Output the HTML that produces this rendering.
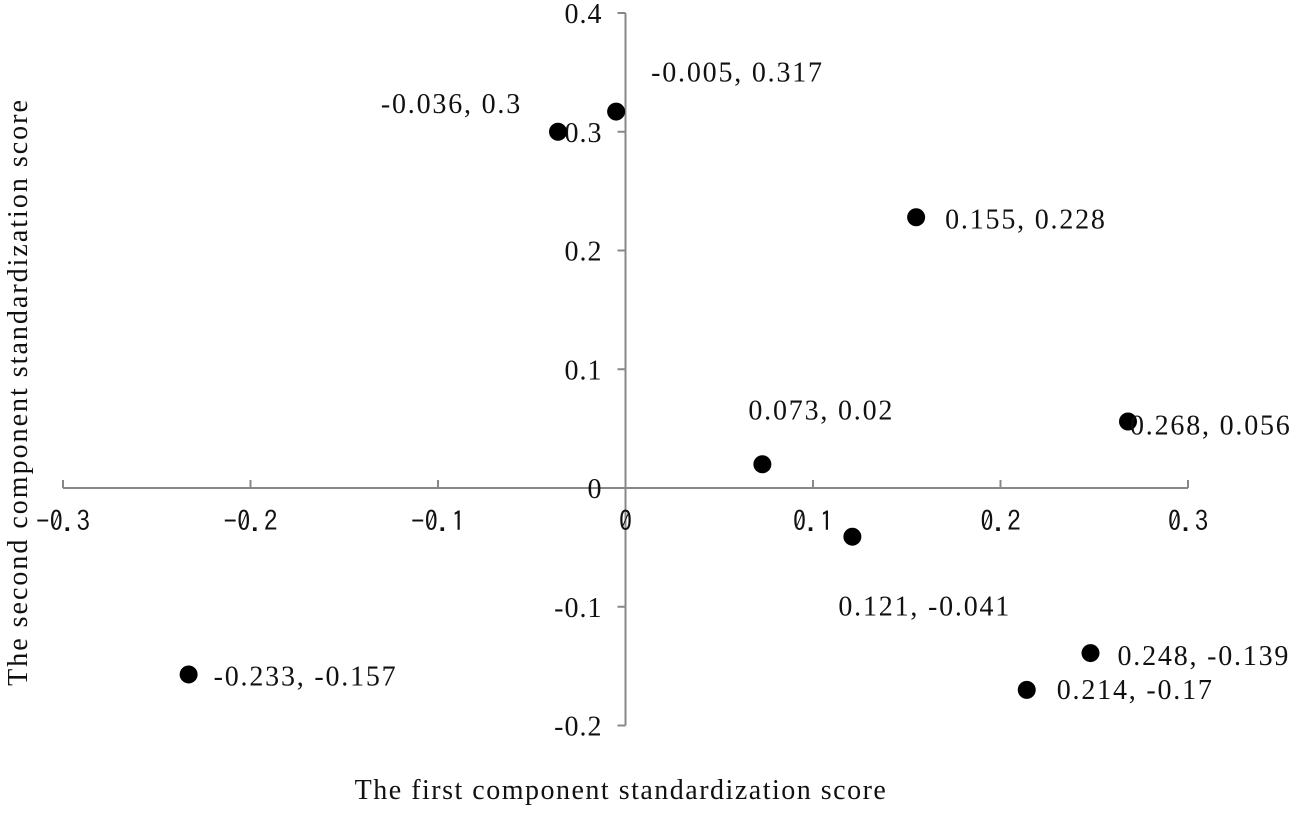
<!DOCTYPE html>
<html><head><meta charset="utf-8"><style>
html,body{margin:0;padding:0;background:#fff}
svg text{font-family:"Liberation Serif",serif;fill:#111}
.xt{font-family:"IPAGothic","Liberation Mono",monospace;font-size:27px}
.lb{font-size:28px;letter-spacing:1.8px}
</style></head><body>
<svg id="chart" width="1299" height="810" xmlns="http://www.w3.org/2000/svg">
<g id="axes"></g><g id="pts"></g>
<text x="621" y="799" text-anchor="middle" font-size="28" letter-spacing="1.5">The first component standardization score</text>
<text transform="translate(27,392) rotate(-90)" text-anchor="middle" font-size="28" letter-spacing="2">The second component standardization score</text>
</svg>
<script>
const xVals=[-0.036,-0.005,0.155,0.073,0.268,0.121,0.248,0.214,-0.233];
const yVals=[0.3,0.317,0.228,0.02,0.056,-0.041,-0.139,-0.17,-0.157];
const xTicks=[-0.3,-0.2,-0.1,0,0.1,0.2,0.3];
const yTicks=[0.4,0.3,0.2,0.1,0,-0.1,-0.2];
const xTickLabels=["-0.3","-0.2","-0.1","0","0.1","0.2","0.3"];
const yTickLabels=["0.4","0.3","0.2","0.1","0","-0.1","-0.2"];
// label offsets [dx, dy, anchor] relative to point
const offs=[[-36,-29,"end"],[35,-40,"start"],[29,1,"start"],[-14,-55,"start"],[2,3,"start"],[-14,69,"start"],[27,2,"start"],[30,-1,"start"],[25,1,"start"]];
const X=v=>625.5+v*1875, Y=v=>488-v*1187.5;
const NS="http://www.w3.org/2000/svg";
const ax=document.getElementById('axes'), pg=document.getElementById('pts');
function mk(t,a,p){const e=document.createElementNS(NS,t);for(const k in a)e.setAttribute(k,a[k]);p.appendChild(e);return e;}
let l=mk('line',{x1:X(-0.3),x2:X(0.3),y1:Y(0),y2:Y(0),stroke:'#888','stroke-width':2},ax);


l=mk('line',{x1:X(0),x2:X(0),y1:Y(0.4),y2:Y(-0.2),stroke:'#888','stroke-width':2},ax);


xTicks.forEach((v,i)=>{
 const t=mk('line',{x1:X(v),x2:X(v),y1:Y(0),y2:Y(0)-8,stroke:'#888','stroke-width':2},ax);
 
 
 const tx=mk('text',{x:X(v),y:Y(0)+43,'text-anchor':'middle',class:'xt'},ax);
 tx.textContent=xTickLabels[i];
 
 
});
yTicks.forEach((v,i)=>{
 const t=mk('line',{x1:X(0)-8,x2:X(0),y1:Y(v),y2:Y(v),stroke:'#888','stroke-width':2},ax);
 
 
 const tx=mk('text',{x:X(0)-23,y:Y(v)+10,'text-anchor':'end','font-size':28,'letter-spacing':1},ax);
 tx.textContent=yTickLabels[i];
 
 
});
xVals.forEach((v,i)=>{
 const cx=X(v),cy=Y(yVals[i]);
 const c=mk('circle',{cx:cx,cy:cy,r:9,fill:'#000'},pg);
 
 
 const o=offs[i];
 const t=mk('text',{x:cx+o[0],y:cy+o[1]+10,'text-anchor':o[2],class:'lb'},pg);
 t.textContent=v+", "+yVals[i];
 
 
});
</script>
</body></html>
